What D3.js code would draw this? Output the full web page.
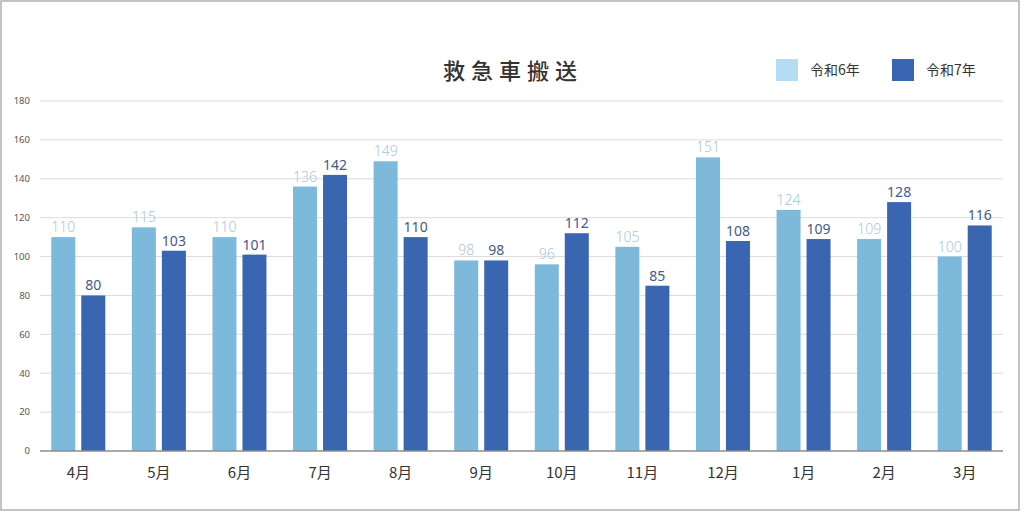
<!DOCTYPE html>
<html>
<head>
<meta charset="utf-8">
<script src="https://cdn.jsdelivr.net/npm/d3@7"></script>
<style>
  html, body { margin: 0; padding: 0; background: #fff; }
  svg { display: block; font-family: "Noto Sans CJK JP", "Noto Sans", sans-serif; }
</style>
</head>
<body>
<div id="chart"></div>
<script>
// データ
const months = ["4月", "5月", "6月", "7月", "8月", "9月", "10月", "11月", "12月", "1月", "2月", "3月"];
const seriesNames = ["令和6年", "令和7年"];
const r6Values = [110, 115, 110, 136, 149, 98, 96, 105, 151, 124, 109, 100];
const r7Values = [80, 103, 101, 142, 110, 98, 112, 85, 108, 109, 128, 116];
const yTicks = [0, 20, 40, 60, 80, 100, 120, 140, 160, 180];
const chartTitle = "救急車搬送";

(function () {
    const width = 1024;
    const height = 512;

    const svg = d3.select("#chart")
        .append("svg")
        .attr("width", width)
        .attr("height", height);

    // 外枠
    svg.append("rect")
        .attr("x", 1).attr("y", 1)
        .attr("width", 1018).attr("height", 509)
        .attr("fill", "#fff")
        .attr("stroke", "#b0b0b0")
        .attr("stroke-width", 1.5);

    const barColor = d3.scaleOrdinal().domain(seriesNames).range(["#7db9db", "#3a65b0"]);
    const legendColor = d3.scaleOrdinal().domain(seriesNames).range(["#b4dcf4", "#3a65b0"]);
    const labelColor = d3.scaleOrdinal().domain(seriesNames).range(["#a7c7de", "#3f5a8c"]);

    const x0 = d3.scaleBand().domain(months).range([38, 1005]).padding(0);
    const x1 = d3.scaleBand().domain(seriesNames).range([-27, 27]).paddingInner(0.2);
    const y = d3.scaleLinear().domain([0, 180]).range([451, 101]);

    // グリッド線
    svg.append("g")
        .selectAll("line")
        .data(yTicks.filter(d => d > 0))
        .enter().append("line")
        .attr("x1", 40).attr("x2", 1003)
        .attr("y1", d => y(d)).attr("y2", d => y(d))
        .attr("stroke", "#dcdcdc")
        .attr("stroke-width", 1);

    // Y軸ラベル
    svg.append("g")
        .selectAll("text")
        .data(yTicks)
        .enter().append("text")
        .attr("x", 30)
        .attr("y", d => y(d))
        .attr("dy", "0.35em")
        .attr("text-anchor", "end")
        .attr("font-size", 9.5)
        .attr("fill", "#555")
        .attr("font-family", "Noto Sans, sans-serif")
        .text(d => d);

    const rows = months.map((m, i) => ({
        month: m,
        values: [
            { key: seriesNames[0], value: r6Values[i] },
            { key: seriesNames[1], value: r7Values[i] }
        ]
    }));

    const groups = svg.append("g")
        .selectAll("g")
        .data(rows)
        .enter().append("g")
        .attr("transform", d => `translate(${x0(d.month) + x0.bandwidth() / 2},0)`);

    groups.selectAll("rect")
        .data(d => d.values)
        .enter().append("rect")
        .attr("x", d => x1(d.key))
        .attr("width", x1.bandwidth())
        .attr("y", d => y(d.value))
        .attr("height", d => y(0) - y(d.value))
        .attr("fill", d => barColor(d.key));

    groups.selectAll("text.val")
        .data(d => d.values)
        .enter().append("text")
        .attr("class", "val")
        .attr("x", d => x1(d.key) + x1.bandwidth() / 2)
        .attr("y", d => y(d.value) - 5)
        .attr("text-anchor", "middle")
        .attr("font-size", 14)
        .attr("font-family", "Noto Sans, sans-serif")
        .attr("font-weight", d => d.key === seriesNames[0] ? 300 : 400)
        .attr("fill", d => labelColor(d.key))
        .text(d => d.value);

    // 月ラベル
    groups.append("text")
        .attr("y", 473)
        .attr("dy", "0.35em")
        .attr("text-anchor", "middle")
        .attr("font-size", 15)
        .attr("fill", "#333")
        .text(d => d.month);

    // ベースライン
    svg.append("line")
        .attr("x1", 40).attr("x2", 1003)
        .attr("y1", y(0)).attr("y2", y(0))
        .attr("stroke", "#8c8c8c")
        .attr("stroke-width", 1.5);

    // タイトル
    svg.append("text")
        .attr("x", 513)
        .attr("y", 71)
        .attr("dy", "0.35em")
        .attr("text-anchor", "middle")
        .attr("font-size", 22)
        .attr("font-weight", 500)
        .attr("letter-spacing", 6)
        .attr("fill", "#333")
        .text(chartTitle);

    // 凡例
    const legend = svg.append("g")
        .selectAll("g")
        .data(seriesNames)
        .enter().append("g")
        .attr("transform", (d, i) => `translate(${776 + i * 116},59)`);

    legend.append("rect")
        .attr("width", 22).attr("height", 22)
        .attr("fill", d => legendColor(d));

    legend.append("text")
        .attr("x", 34)
        .attr("y", 11)
        .attr("dy", "0.35em")
        .attr("font-size", 14)
        .attr("fill", "#333")
        .text(d => d);
})();
</script>
</body>
</html>
